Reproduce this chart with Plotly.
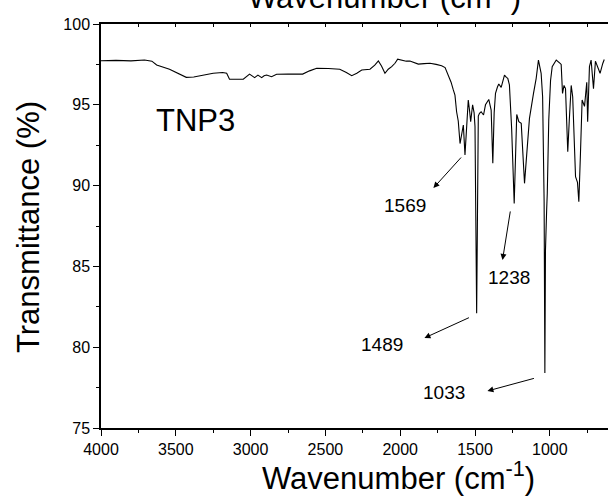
import plotly.graph_objects as go

# ---- data ----
wavenumber = [4000, 3900, 3800, 3709, 3660, 3628, 3542, 3480, 3430, 3380, 3342, 3250, 3187, 3160,
              3141, 3100, 3049, 3007, 2990, 2973, 2951, 2940, 2926, 2910, 2893, 2860, 2826, 2750,
              2652, 2606, 2558, 2480, 2404, 2360, 2324, 2290, 2257, 2202, 2170, 2146, 2125, 2102,
              2080, 2057, 2035, 2017, 1990, 1960, 1935, 1900, 1879, 1840, 1801, 1760, 1723, 1700,
              1679, 1660, 1645, 1634, 1623, 1612, 1600, 1590, 1578, 1567, 1555, 1545, 1536, 1529,
              1516, 1506, 1500, 1489, 1478, 1470, 1459, 1443, 1430, 1408, 1392, 1381, 1372, 1363,
              1350, 1341, 1325, 1303, 1290, 1281, 1270, 1255, 1238, 1229, 1221, 1207, 1191, 1169,
              1154, 1136, 1109, 1091, 1076, 1058, 1048, 1038, 1033, 1029, 1021, 1017, 1007, 995,
              984, 957, 931, 924, 915, 905, 895, 880, 870, 857, 847, 828, 815, 806, 795, 784, 768,
              753, 747, 740, 735, 724, 708, 695, 680, 664, 646, 636]
transmittance = [97.73, 97.75, 97.72, 97.77, 97.7, 97.46, 97.2, 96.95, 96.7, 96.72, 96.8, 96.95, 97.0, 96.95,
                 96.58, 96.6, 96.58, 96.9, 96.8, 96.68, 96.84, 96.75, 96.68, 96.8, 96.84, 96.74, 96.89, 96.9,
                 96.9, 97.1, 97.26, 97.25, 97.2, 97.0, 96.8, 96.95, 97.15, 97.2, 97.45, 97.71, 97.4, 96.95,
                 97.2, 97.36, 97.57, 97.82, 97.75, 97.7, 97.71, 97.6, 97.52, 97.55, 97.57, 97.5, 97.42, 97.3,
                 96.84, 96.4, 95.92, 95.6, 94.57, 94.0, 92.6, 93.1, 93.75, 91.9, 94.2, 95.3, 94.6, 93.95,
                 95.0, 94.5, 93.65, 82.1, 94.3, 94.47, 94.57, 94.37, 95.0, 95.33, 94.67, 91.38, 94.5, 95.71,
                 96.1, 96.29, 96.08, 96.84, 96.7, 96.64, 96.23, 93.5, 88.9, 93.0, 94.4, 93.95, 93.85, 90.14,
                 91.9, 94.16, 95.71, 96.64, 97.77, 96.95, 95.5, 89.0, 78.4, 86.0, 88.5, 89.5, 94.06, 96.5,
                 97.36, 97.77, 97.56, 97.5, 95.7, 96.2, 96.0, 92.1, 94.0, 96.2, 95.5, 90.55, 90.2, 89.0, 92.0,
                 95.3, 94.9, 96.4, 93.95, 96.5, 97.36, 97.77, 96.0, 97.7, 97.36, 96.95, 97.56, 97.8]

peak_labels = ["1569", "1238", "1489", "1033"]
sample_label = "TNP3"
x_title = "Wavenumber (cm<sup>-1</sup>)"
y_title = "Transmittance (%)"
x_tickvals = [4000, 3500, 3000, 2500, 2000, 1500, 1000]
y_tickvals = [75, 80, 85, 90, 95, 100]

FONT = "Liberation Sans, Arial, sans-serif"

fig = go.Figure()
fig.add_trace(go.Scatter(x=wavenumber, y=transmittance, mode="lines",
                         line=dict(color="black", width=1.1), showlegend=False,
                         hoverinfo="skip"))
# invisible trace so the top (mirror) axis is drawn
fig.add_trace(go.Scatter(x=[wavenumber[0]], y=[transmittance[0]], xaxis="x2", mode="markers",
                         marker=dict(opacity=0), showlegend=False, hoverinfo="skip"))

# label placement (label text position, arrow head position, arrow tail offset in px)
label_pos = [(1965, 88.74), (1270, 84.34), (2125, 80.14), (1704, 77.17)]
arrow_head = [(1778, 89.85), (1316, 85.4), (1838, 80.57), (1417, 77.29)]
arrow_tail = [(29, -32), (8, -50), (46, -21), (48, -13)]

annotations = []
for lab, (lx, ly), (hx, hy), (ax, ay) in zip(peak_labels, label_pos, arrow_head, arrow_tail):
    annotations.append(dict(x=lx, y=ly, xref="x", yref="y", text=lab, showarrow=False,
                            font=dict(family=FONT, size=19, color="black")))
    annotations.append(dict(x=hx, y=hy, xref="x", yref="y", text="", showarrow=True,
                            ax=ax, ay=ay, arrowhead=2, arrowsize=1.2, arrowwidth=1,
                            arrowcolor="black"))

annotations.append(dict(x=3368, y=94.0, xref="x", yref="y", text=sample_label, showarrow=False,
                        font=dict(family=FONT, size=31, color="black")))
annotations.append(dict(x=0.586, y=-0.119, xref="paper", yref="paper", text=x_title,
                        showarrow=False, font=dict(family=FONT, size=31, color="black"),
                        xanchor="center", yanchor="middle"))
annotations.append(dict(x=-0.144, y=0.4975, xref="paper", yref="paper", text=y_title,
                        showarrow=False, textangle=-90,
                        font=dict(family=FONT, size=31, color="black"),
                        xanchor="center", yanchor="middle"))
# top axis title, cut off by the page edge
annotations.append(dict(x=0.56, y=1, xref="paper", yref="paper", text=x_title,
                        showarrow=False, font=dict(family=FONT, size=31, color="black"),
                        xanchor="center", yanchor="bottom", yshift=7))

axis_common = dict(showline=True, linecolor="black", linewidth=1.5, showgrid=False,
                   zeroline=False, tickcolor="black", tickwidth=1.2,
                   tickfont=dict(family=FONT, size=16, color="black"))

fig.update_layout(
    width=608, height=504,
    margin=dict(l=101, r=0, t=24, b=76),
    paper_bgcolor="white", plot_bgcolor="white",
    xaxis=dict(range=[4000, 611], tickvals=x_tickvals, ticks="outside", ticklen=6,
               minor=dict(dtick=250, ticks="outside", ticklen=3, tickcolor="black"),
               **axis_common),
    xaxis2=dict(range=[4000, 611], overlaying="x", side="top", showticklabels=False,
                ticks="inside", ticklen=3, dtick=250, tick0=4000,
                showline=True, linecolor="black", linewidth=1.5, showgrid=False,
                zeroline=False, tickcolor="black", tickwidth=1),
    yaxis=dict(range=[75, 100], tickvals=y_tickvals, ticks="outside", ticklen=6,
               minor=dict(dtick=2.5, ticks="outside", ticklen=3, tickcolor="black"),
               **axis_common),
    annotations=annotations,
)

fig.write_html("out.html")
